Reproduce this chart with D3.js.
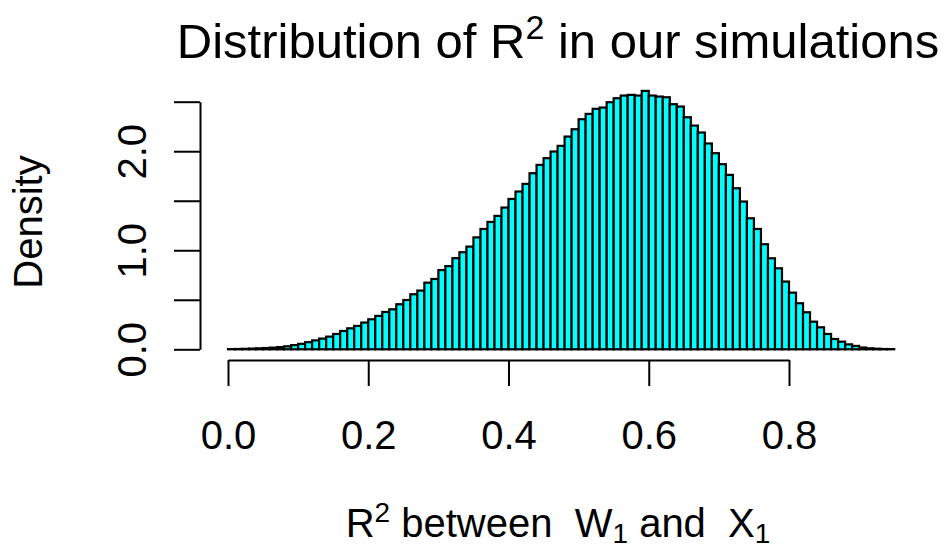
<!DOCTYPE html>
<head>
<meta charset="utf-8">
<title>Distribution of R2</title>
<script type="text/javascript" src="https://d3js.org/d3.v7.min.js"></script>
<style>
    body { margin: 0; background: #fff; }
    text { font-family: "Liberation Sans", Arial, Helvetica, sans-serif; fill: #000; }
    .bar { fill: #00ffff; stroke: #000; stroke-width: 2.2; }
    .axis path, .axis line { stroke: #000; stroke-width: 2; }
</style>
</head>
<body>
<div id="container"></div>
<script>
//-----------------------------DATA-----------------------------//
var binStart = 0;
var binWidth = 0.01;
// density of each 0.01-wide bin, 0.00 .. 0.95
var density = [
  0.002, 0.003, 0.005, 0.007, 0.010, 0.013, 0.017, 0.022, 0.030, 0.042,
  0.055, 0.072, 0.090, 0.108, 0.128, 0.155, 0.185, 0.212, 0.236, 0.270,
  0.303, 0.337, 0.377, 0.404, 0.455, 0.498, 0.556, 0.593, 0.673, 0.710,
  0.800, 0.840, 0.920, 0.980, 1.037, 1.130, 1.215, 1.286, 1.347, 1.431,
  1.518, 1.593, 1.670, 1.778, 1.862, 1.930, 1.997, 2.054, 2.148, 2.222,
  2.323, 2.377, 2.428, 2.441, 2.495, 2.535, 2.562, 2.569, 2.562, 2.609,
  2.562, 2.552, 2.545, 2.475, 2.451, 2.343, 2.259, 2.189, 2.078, 1.980,
  1.869, 1.761, 1.626, 1.492, 1.323, 1.215, 1.061, 0.919, 0.818, 0.684,
  0.572, 0.465, 0.374, 0.279, 0.222, 0.155, 0.104, 0.077, 0.050, 0.034,
  0.018, 0.010, 0.006, 0.003, 0.002
];
var xTicks = [0, 0.2, 0.4, 0.6, 0.8];
var xTickLabels = ["0.0", "0.2", "0.4", "0.6", "0.8"];
var yTicks = [0, 0.5, 1, 1.5, 2, 2.5];
var yTickLabels = ["0.0", "", "1.0", "", "2.0", ""];

var bins = density.map(function(d, i) {
    return { x0: binStart + i * binWidth, x1: binStart + (i + 1) * binWidth, y: d };
});

//-----------------------------SVG------------------------------//
var width = 946, height = 550;
var svg = d3.select("#container").append("svg")
    .attr("width", width)
    .attr("height", height);

//----------------------------SCALES----------------------------//
var xScale = d3.scaleLinear().domain([0, 0.8]).range([228, 789]);
var yScale = d3.scaleLinear().domain([0, 2.5]).range([349.3, 101.7]);

//-----------------------------BARS-----------------------------//
svg.selectAll(".bar")
    .data(bins)
    .enter().append("rect")
    .attr("class", "bar")
    .attr("x", function(d) { return xScale(d.x0); })
    .attr("width", function(d) { return xScale(d.x1) - xScale(d.x0); })
    .attr("y", function(d) { return yScale(d.y); })
    .attr("height", function(d) { return yScale(0) - yScale(d.y); });

//-----------------------------AXES-----------------------------//
var xAxis = d3.axisBottom(xScale)
    .tickValues(xTicks)
    .tickSizeInner(26)
    .tickSizeOuter(0)
    .tickFormat(function(d, i) { return xTickLabels[i]; });

var gx = svg.append("g")
    .attr("class", "axis")
    .attr("transform", "translate(0,360)")
    .call(xAxis);
gx.selectAll("text")
    .attr("y", 89)
    .attr("dy", 0)
    .style("font-size", "40px");

var yAxis = d3.axisLeft(yScale)
    .tickValues(yTicks)
    .tickSizeInner(26)
    .tickSizeOuter(0)
    .tickFormat(function(d, i) { return yTickLabels[i]; });

var gy = svg.append("g")
    .attr("class", "axis")
    .attr("transform", "translate(200,0)")
    .call(yAxis);
gy.selectAll("text")
    .attr("x", 0)
    .attr("y", 0)
    .attr("dy", 0)
    .attr("text-anchor", "middle")
    .attr("transform", "translate(-54,0) rotate(-90)")
    .style("font-size", "40px");

//----------------------------LABELS----------------------------//
var title = svg.append("text")
    .attr("x", 558)
    .attr("y", 58)
    .attr("text-anchor", "middle")
    .style("font-size", "49px");
title.append("tspan").text("Distribution of R");
title.append("tspan").attr("dy", -19).style("font-size", "34px").text("2");
title.append("tspan").attr("dy", 19).text(" in our simulations");

var xlab = svg.append("text")
    .attr("x", 558)
    .attr("y", 537)
    .attr("text-anchor", "middle")
    .attr("xml:space", "preserve")
    .style("font-size", "40px");
xlab.append("tspan").text("R");
xlab.append("tspan").attr("dy", -15).style("font-size", "28px").text("2");
xlab.append("tspan").attr("dy", 15).text(" between  W");
xlab.append("tspan").attr("dy", 6).style("font-size", "28px").text("1");
xlab.append("tspan").attr("dy", -6).text(" and  X");
xlab.append("tspan").attr("dy", 6).style("font-size", "28px").text("1");

svg.append("text")
    .attr("transform", "translate(42,222) rotate(-90)")
    .attr("text-anchor", "middle")
    .style("font-size", "40px")
    .text("Density");
</script>
</body>
